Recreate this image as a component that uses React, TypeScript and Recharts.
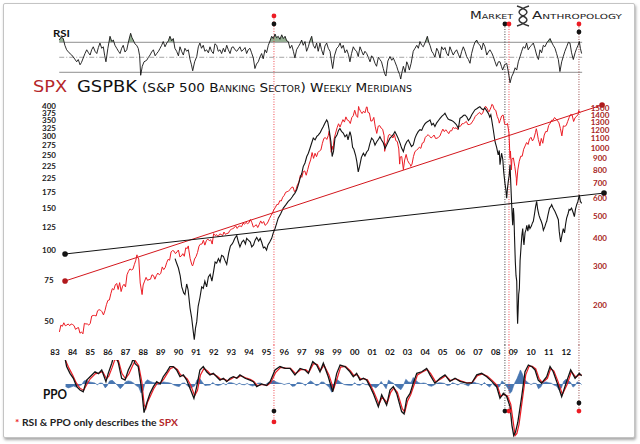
import React from "react";
import {
  Area,
  ComposedChart,
  Line,
  ReferenceDot,
  ReferenceLine,
  XAxis,
  YAxis,
} from "recharts";

type Pt = [number, number];

const RED = "#ec1c24";
const DARK_RED = "#a82624";
const INK = "#141414";
const RULE = "#8e8e8e";
const BLUE = "#3e6fad";
const GREEN = "#4f7d4b";

const X_DOMAIN = [1983, 2014.31];

const yearTicks = [
  1983, 1984, 1985, 1986, 1987, 1988, 1989, 1990, 1991, 1992, 1993, 1994, 1995,
  1996, 1997, 1998, 1999, 2000, 2001, 2002, 2003, 2004, 2005, 2006, 2007, 2008,
  2009, 2010, 2011, 2012,
];
const yearLabels = [
  "83", "84", "85", "86", "87", "88", "89", "90", "91", "92", "93", "94", "95",
  "96", "97", "98", "99", "00", "01", "02", "03", "04", "05", "06", "07", "08",
  "09", "10", "11", "12",
];

// left axis as printed (the 200 line carries a second "225")
const gspbkTicks = [50, 75, 100, 125, 150, 175, 200, 225, 250, 275, 300, 325, 350, 375, 400];
const gspbkTickLabels = ["50", "75", "100", "125", "150", "175", "225", "225", "250", "275", "300", "325", "350", "375", "400"];
const spxTicks = [200, 300, 400, 500, 600, 700, 800, 900, 1000, 1100, 1200, 1300, 1400, 1500];

// SPX month-end closes from Mar 1983 to Sep 2012
const spxStart = 1983.25;
const spxMonthly = [
  153, 164, 162, 168, 163, 164, 166, 163, 166, 165,
  163, 157, 159, 160, 151, 153, 150, 167, 166, 166, 164, 167,
  180, 181, 181, 180, 190, 192, 191, 188, 182, 190, 202, 211,
  212, 226, 238, 235, 247, 251, 236, 253, 231, 244, 249, 242,
  274, 284, 291, 288, 290, 304, 318, 330, 322, 252, 230, 247,
  257, 267, 259, 261, 262, 274, 272, 262, 272, 279, 274, 278,
  297, 289, 295, 310, 321, 318, 346, 351, 349, 340, 346, 353,
  329, 332, 340, 331, 361, 358, 356, 323, 306, 304, 322, 330,
  344, 367, 375, 375, 390, 371, 388, 395, 388, 392, 375, 417,
  409, 413, 404, 415, 415, 408, 424, 414, 418, 419, 431, 436,
  439, 443, 452, 440, 450, 451, 448, 464, 459, 468, 462, 466,
  482, 467, 446, 451, 457, 444, 458, 475, 463, 472, 454, 459,
  470, 487, 501, 515, 533, 545, 562, 562, 584, 582, 605, 616,
  636, 640, 645, 654, 669, 671, 640, 652, 687, 705, 757, 741,
  786, 791, 757, 801, 848, 885, 954, 899, 947, 915, 955, 970,
  980, 1049, 1102, 1112, 1091, 1134, 1121, 957, 1017, 1099, 1164, 1229,
  1280, 1238, 1286, 1335, 1302, 1373, 1329, 1320, 1283, 1363, 1389, 1469,
  1394, 1366, 1499, 1452, 1421, 1455, 1431, 1518, 1437, 1429, 1315, 1320,
  1366, 1240, 1160, 1249, 1256, 1224, 1211, 1134, 1041, 1060, 1139, 1148,
  1130, 1107, 1147, 1077, 1067, 990, 912, 916, 815, 885, 936, 880,
  856, 841, 848, 917, 964, 975, 990, 1008, 996, 1051, 1058, 1112,
  1131, 1145, 1126, 1107, 1121, 1141, 1102, 1104, 1115, 1130, 1174, 1212,
  1181, 1204, 1181, 1157, 1192, 1191, 1234, 1220, 1229, 1207, 1249, 1248,
  1280, 1281, 1295, 1311, 1270, 1270, 1277, 1304, 1336, 1378, 1401, 1418,
  1438, 1407, 1421, 1482, 1531, 1503, 1455, 1474, 1527, 1549, 1481, 1468,
  1379, 1331, 1323, 1386, 1400, 1280, 1267, 1283, 1165, 969, 896, 903,
  826, 735, 798, 873, 919, 919, 987, 1021, 1057, 1036, 1096, 1115,
  1074, 1104, 1169, 1187, 1089, 1031, 1102, 1049, 1141, 1183, 1181, 1258,
  1286, 1327, 1326, 1364, 1345, 1321, 1292, 1219, 1131, 1253, 1247, 1258,
  1312, 1366, 1408, 1398, 1310, 1362, 1379, 1407, 1441,
];

// weekly highs and lows that sit between month ends
const spxWeeklyExtremes: Pt[] = [
  [1987.65, 336], [1987.94, 224], [1990.56, 368], [1990.8, 300],
  [1998.55, 1186], [1998.77, 984], [2000.22, 1527], [2000.7, 1521],
  [2001.7, 966], [2002.55, 848], [2002.76, 801], [2003.18, 829],
  [2007.62, 1445], [2007.78, 1561], [2008.2, 1288], [2008.81, 899],
  [2008.89, 800], [2009.18, 683], [2010.3, 1217], [2010.5, 1022],
  [2011.34, 1363], [2012.71, 1465], [2012.8, 1433],
];

const gspbk: Pt[] = [
  [1989.81, 92], [1989.9, 88], [1990.0, 84], [1990.1, 78], [1990.19, 70],
  [1990.3, 66], [1990.37, 65], [1990.47, 72], [1990.55, 68], [1990.66, 57],
  [1990.75, 52], [1990.85, 45], [1990.9, 42], [1990.97, 47], [1991.04, 50],
  [1991.12, 58], [1991.22, 63], [1991.32, 70], [1991.41, 69], [1991.5, 74],
  [1991.6, 70], [1991.7, 77], [1991.8, 79], [1991.9, 74], [1991.98, 80],
  [1992.08, 89], [1992.17, 88], [1992.27, 92], [1992.36, 89], [1992.45, 95],
  [1992.55, 94], [1992.65, 90], [1992.74, 87], [1992.85, 97], [1992.95, 104],
  [1993.05, 106], [1993.11, 108], [1993.2, 112], [1993.31, 115], [1993.4, 108],
  [1993.49, 103], [1993.6, 108], [1993.7, 110], [1993.8, 106], [1993.87, 112],
  [1993.97, 110], [1994.08, 108], [1994.16, 103], [1994.26, 105], [1994.35, 110],
  [1994.44, 113], [1994.55, 109], [1994.64, 112], [1994.72, 108], [1994.82, 102],
  [1994.9, 103], [1995.0, 100], [1995.08, 105], [1995.18, 108], [1995.29, 112],
  [1995.38, 118], [1995.48, 123], [1995.58, 130], [1995.66, 136], [1995.8, 142],
  [1995.95, 150], [1996.1, 155], [1996.23, 160], [1996.35, 163], [1996.45, 167],
  [1996.52, 170], [1996.6, 173], [1996.71, 179], [1996.8, 188], [1996.9, 200],
  [1997.0, 210], [1997.08, 224], [1997.18, 232], [1997.28, 247], [1997.37, 255],
  [1997.46, 267], [1997.55, 280], [1997.65, 295], [1997.75, 290], [1997.85, 300],
  [1997.93, 304], [1998.05, 312], [1998.12, 320], [1998.22, 330], [1998.3, 340],
  [1998.41, 352], [1998.47, 345], [1998.55, 320], [1998.65, 285], [1998.72, 247],
  [1998.8, 260], [1998.88, 295], [1999.0, 305], [1999.08, 318], [1999.16, 324],
  [1999.25, 315], [1999.35, 310], [1999.45, 299], [1999.55, 305], [1999.62, 290],
  [1999.73, 314], [1999.8, 300], [1999.88, 270], [1999.95, 265], [2000.05, 250],
  [2000.12, 235], [2000.2, 213], [2000.28, 225], [2000.38, 245], [2000.49, 255],
  [2000.58, 248], [2000.68, 258], [2000.77, 263], [2000.86, 280], [2000.96, 295],
  [2001.05, 290], [2001.15, 276], [2001.25, 285], [2001.35, 292], [2001.43, 299],
  [2001.52, 290], [2001.62, 282], [2001.72, 267], [2001.8, 275], [2001.9, 285],
  [2002.0, 295], [2002.1, 300], [2002.18, 305], [2002.28, 314], [2002.37, 305],
  [2002.46, 295], [2002.57, 281], [2002.66, 268], [2002.76, 259], [2002.85, 275],
  [2002.95, 285], [2003.04, 290], [2003.14, 280], [2003.22, 272], [2003.32, 276],
  [2003.42, 295], [2003.5, 305], [2003.6, 314], [2003.7, 320], [2003.8, 318],
  [2003.89, 330], [2004.0, 340], [2004.1, 345], [2004.19, 348], [2004.27, 352],
  [2004.37, 335], [2004.46, 340], [2004.55, 330], [2004.65, 342], [2004.75, 350],
  [2004.84, 357], [2004.95, 365], [2005.05, 370], [2005.12, 375], [2005.22, 363],
  [2005.3, 355], [2005.4, 352], [2005.5, 350], [2005.6, 346], [2005.7, 340],
  [2005.78, 335], [2005.88, 324], [2005.97, 357], [2006.08, 362], [2006.18, 368],
  [2006.26, 369], [2006.36, 362], [2006.45, 350], [2006.54, 357], [2006.64, 370],
  [2006.74, 380], [2006.82, 388], [2006.92, 392], [2007.02, 397], [2007.1, 400],
  [2007.2, 392], [2007.29, 388], [2007.38, 395], [2007.48, 385], [2007.58, 375],
  [2007.66, 362], [2007.72, 370], [2007.77, 352], [2007.86, 320], [2007.96, 285],
  [2008.05, 270], [2008.14, 251], [2008.2, 262], [2008.24, 228], [2008.33, 255],
  [2008.4, 240], [2008.45, 213], [2008.52, 191], [2008.57, 180], [2008.62, 165],
  [2008.66, 180], [2008.71, 194], [2008.76, 205], [2008.81, 228], [2008.84, 200],
  [2008.88, 170], [2008.93, 140], [2008.96, 127], [2009.0, 150], [2009.03, 140],
  [2009.07, 110], [2009.11, 89], [2009.15, 78], [2009.19, 74], [2009.22, 55],
  [2009.24, 49], [2009.27, 56], [2009.3, 65], [2009.34, 69], [2009.38, 90],
  [2009.43, 102], [2009.48, 115], [2009.53, 123], [2009.57, 110], [2009.6, 105],
  [2009.66, 118], [2009.72, 122], [2009.76, 127], [2009.82, 120], [2009.88, 128],
  [2009.94, 123], [2010.02, 126], [2010.08, 130], [2010.13, 132], [2010.2, 142],
  [2010.26, 152], [2010.32, 160], [2010.38, 148], [2010.45, 140], [2010.51, 136],
  [2010.58, 132], [2010.64, 128], [2010.7, 121], [2010.78, 125], [2010.85, 130],
  [2010.89, 132], [2010.96, 140], [2011.05, 150], [2011.12, 152], [2011.17, 155],
  [2011.25, 150], [2011.36, 145], [2011.45, 140], [2011.55, 134], [2011.6, 120],
  [2011.65, 112], [2011.68, 108], [2011.72, 112], [2011.78, 118], [2011.83, 123],
  [2011.9, 118], [2011.96, 128], [2012.02, 136], [2012.1, 142], [2012.16, 148],
  [2012.21, 147], [2012.3, 150], [2012.4, 143], [2012.46, 138], [2012.52, 148],
  [2012.59, 155], [2012.66, 160], [2012.74, 170], [2012.8, 160], [2012.87, 157],
];

// SPX weekly RSI
const rsi: Pt[] = [
  [1983.24, 73], [1983.35, 77], [1983.47, 75], [1983.56, 66], [1983.66, 60],
  [1983.8, 56], [1983.95, 53], [1984.08, 49], [1984.23, 44], [1984.32, 47],
  [1984.42, 40], [1984.5, 43], [1984.6, 49], [1984.7, 55], [1984.8, 60],
  [1984.9, 56], [1984.99, 53], [1985.08, 60], [1985.17, 64], [1985.27, 58],
  [1985.37, 55], [1985.46, 63], [1985.55, 69], [1985.65, 62], [1985.74, 64],
  [1985.82, 52], [1985.89, 44], [1986.0, 62], [1986.12, 78], [1986.22, 71],
  [1986.31, 73], [1986.4, 66], [1986.5, 62], [1986.6, 58], [1986.69, 55],
  [1986.78, 62], [1986.87, 66], [1986.97, 57], [1987.07, 60], [1987.18, 72],
  [1987.29, 82], [1987.37, 76], [1987.44, 73], [1987.53, 68], [1987.63, 66],
  [1987.72, 62], [1987.8, 52], [1987.86, 26], [1987.95, 38], [1988.05, 44],
  [1988.2, 46], [1988.3, 50], [1988.39, 53], [1988.48, 57], [1988.58, 60],
  [1988.68, 52], [1988.77, 55], [1988.87, 58], [1988.96, 62], [1989.05, 66],
  [1989.14, 71], [1989.24, 64], [1989.34, 69], [1989.43, 72], [1989.52, 78],
  [1989.62, 72], [1989.71, 75], [1989.8, 62], [1989.9, 58], [1990.0, 52],
  [1990.09, 64], [1990.18, 58], [1990.28, 53], [1990.37, 62], [1990.47, 58],
  [1990.56, 60], [1990.66, 47], [1990.74, 40], [1990.81, 32], [1990.92, 44],
  [1991.04, 51], [1991.13, 64], [1991.22, 69], [1991.31, 62], [1991.41, 66],
  [1991.5, 58], [1991.6, 60], [1991.7, 56], [1991.79, 64], [1991.88, 58],
  [1991.98, 55], [1992.07, 68], [1992.17, 66], [1992.26, 58], [1992.36, 60],
  [1992.45, 55], [1992.55, 62], [1992.64, 57], [1992.74, 66], [1992.83, 60],
  [1992.93, 55], [1993.02, 63], [1993.11, 64], [1993.21, 60], [1993.31, 58],
  [1993.4, 61], [1993.49, 64], [1993.58, 58], [1993.68, 60], [1993.78, 63],
  [1993.87, 55], [1993.96, 60], [1994.06, 62], [1994.15, 56], [1994.25, 49],
  [1994.34, 35], [1994.43, 41], [1994.53, 44], [1994.62, 50], [1994.72, 55],
  [1994.81, 48], [1994.91, 60], [1995.0, 56], [1995.1, 66], [1995.2, 72],
  [1995.29, 78], [1995.38, 75], [1995.48, 81], [1995.57, 76], [1995.66, 78],
  [1995.76, 74], [1995.86, 80], [1995.95, 75], [1996.05, 78], [1996.14, 72],
  [1996.23, 71], [1996.33, 62], [1996.43, 66], [1996.52, 58], [1996.61, 49],
  [1996.7, 60], [1996.8, 64], [1996.9, 68], [1996.99, 73], [1997.08, 66],
  [1997.18, 71], [1997.27, 58], [1997.37, 64], [1997.46, 72], [1997.56, 78],
  [1997.65, 66], [1997.75, 62], [1997.84, 69], [1997.93, 58], [1998.03, 69],
  [1998.12, 60], [1998.22, 53], [1998.31, 65], [1998.41, 69], [1998.5, 62],
  [1998.6, 58], [1998.68, 45], [1998.75, 35], [1998.85, 52], [1998.98, 62],
  [1999.07, 64], [1999.17, 69], [1999.26, 62], [1999.35, 66], [1999.45, 56],
  [1999.55, 60], [1999.64, 54], [1999.73, 44], [1999.82, 55], [1999.92, 64],
  [2000.01, 60], [2000.11, 58], [2000.2, 51], [2000.3, 64], [2000.4, 58],
  [2000.49, 53], [2000.58, 58], [2000.68, 55], [2000.77, 50], [2000.87, 44],
  [2000.96, 52], [2001.05, 49], [2001.15, 42], [2001.24, 38], [2001.34, 50],
  [2001.43, 47], [2001.52, 44], [2001.62, 35], [2001.7, 28], [2001.77, 25],
  [2001.88, 45], [2002.0, 51], [2002.1, 46], [2002.19, 49], [2002.28, 44],
  [2002.38, 38], [2002.46, 32], [2002.55, 27], [2002.61, 21], [2002.68, 30],
  [2002.76, 38], [2002.86, 30], [2002.95, 44], [2003.02, 40], [2003.1, 33],
  [2003.2, 42], [2003.32, 58], [2003.42, 62], [2003.52, 66], [2003.61, 62],
  [2003.7, 71], [2003.8, 66], [2003.89, 64], [2004.0, 70], [2004.12, 78],
  [2004.2, 70], [2004.27, 66], [2004.37, 58], [2004.46, 55], [2004.55, 50],
  [2004.65, 62], [2004.74, 58], [2004.84, 49], [2004.93, 64], [2005.03, 60],
  [2005.12, 63], [2005.22, 55], [2005.31, 52], [2005.4, 64], [2005.5, 58],
  [2005.59, 53], [2005.68, 57], [2005.78, 60], [2005.88, 54], [2005.97, 49],
  [2006.07, 58], [2006.16, 64], [2006.26, 58], [2006.35, 51], [2006.45, 47],
  [2006.54, 42], [2006.63, 55], [2006.73, 64], [2006.82, 70], [2006.92, 73],
  [2007.01, 68], [2007.11, 66], [2007.2, 60], [2007.29, 69], [2007.39, 64],
  [2007.49, 53], [2007.58, 57], [2007.67, 60], [2007.77, 56], [2007.86, 51],
  [2007.96, 44], [2008.05, 38], [2008.15, 44], [2008.24, 44], [2008.32, 38],
  [2008.39, 33], [2008.5, 40], [2008.62, 42], [2008.72, 30], [2008.81, 16],
  [2008.9, 24], [2009.0, 29], [2009.1, 36], [2009.19, 33], [2009.28, 44],
  [2009.38, 51], [2009.47, 58], [2009.56, 64], [2009.66, 62], [2009.75, 69],
  [2009.84, 60], [2009.94, 64], [2010.03, 66], [2010.13, 69], [2010.22, 62],
  [2010.32, 53], [2010.42, 47], [2010.51, 60], [2010.6, 56], [2010.7, 66],
  [2010.79, 64], [2010.89, 69], [2010.98, 72], [2011.08, 75], [2011.17, 70],
  [2011.26, 66], [2011.36, 62], [2011.45, 55], [2011.55, 47], [2011.64, 31],
  [2011.74, 44], [2011.83, 51], [2011.92, 58], [2012.02, 64], [2012.12, 70],
  [2012.21, 69], [2012.3, 56], [2012.4, 47], [2012.5, 56], [2012.59, 62],
  [2012.67, 66], [2012.74, 71], [2012.8, 62], [2012.87, 55],
];

// SPX PPO line, its signal line and histogram
const ppo: Pt[] = [
  [1983.55, 10.5], [1983.66, 6.7], [1983.85, 4.1], [1984.04, 2.2], [1984.23, -1],
  [1984.42, -2.3], [1984.6, -3], [1984.8, 1.5], [1984.99, 2.8], [1985.27, 4.7],
  [1985.46, 4], [1985.65, 5.4], [1985.89, 0.9], [1986.02, 4.1], [1986.22, 8],
  [1986.32, 10.5], [1986.49, 10], [1986.59, 8.2], [1986.78, 2.2], [1986.97, 1.5],
  [1987.16, 5.4], [1987.35, 8], [1987.44, 10], [1987.54, 7.8], [1987.72, 6.7],
  [1987.92, -2.3], [1988.05, -11], [1988.2, -7.4], [1988.39, -3.6], [1988.58, -1],
  [1988.77, 0.9], [1988.96, 0], [1989.14, 2.8], [1989.34, 4.7], [1989.52, 6.7],
  [1989.71, 6.7], [1989.9, 5.4], [1990.09, 2.8], [1990.28, 3.5], [1990.47, 1.5],
  [1990.66, -1.7], [1990.88, -5.5], [1991.04, -1], [1991.22, 5.4], [1991.41, 6.7],
  [1991.6, 4.7], [1991.79, 3.5], [1991.98, 4.1], [1992.17, 2.8], [1992.36, 1.5],
  [1992.55, 2.2], [1992.74, 0.9], [1992.93, 2.2], [1993.11, 2.8], [1993.31, 2.2],
  [1993.49, 3.5], [1993.78, 2.2], [1994.06, 1.5], [1994.25, 0.9], [1994.44, -1],
  [1994.72, 0], [1995.0, -0.6], [1995.2, 0.9], [1995.48, 5.4], [1995.76, 6.7],
  [1996.05, 6], [1996.33, 6], [1996.61, 3.5], [1996.9, 6], [1997.18, 5.4],
  [1997.37, 4.1], [1997.62, 8.6], [1997.84, 7.3], [1998.03, 4.7], [1998.22, 8],
  [1998.5, 2.8], [1998.75, -3], [1998.98, 4.1], [1999.17, 7.3], [1999.45, 6.7],
  [1999.73, 4.7], [1999.92, 2.8], [2000.11, 4.1], [2000.3, 1.5], [2000.49, 2.2],
  [2000.68, 1.5], [2000.87, -1], [2001.05, -3.6], [2001.34, -8.7], [2001.53, -4.2],
  [2001.81, -8.1], [2002.0, -2.3], [2002.19, -1], [2002.38, -3.6], [2002.66, -10.6],
  [2002.8, -11.5], [2002.95, -5.6], [2003.14, -3.6], [2003.32, 0.3], [2003.52, 4.1],
  [2003.8, 4.7], [2004.08, 6], [2004.27, 3.5], [2004.55, 0.3], [2004.84, 2.2],
  [2005.12, 3.5], [2005.4, 1], [2005.69, 2.2], [2005.97, 1], [2006.35, 0.3],
  [2006.63, 0.3], [2006.92, 3.5], [2007.2, 4.1], [2007.49, 2.8], [2007.77, 1],
  [2008.05, -1], [2008.24, -5.5], [2008.43, -3.6], [2008.62, -4.8], [2008.81, -8.7],
  [2008.92, -16], [2009.02, -19.8], [2009.12, -18.5], [2009.25, -14.8], [2009.47, -4.9],
  [2009.66, 4.7], [2009.85, 7.3], [2010.04, 6.7], [2010.23, 5.4], [2010.41, 1.5],
  [2010.6, 0.3], [2010.89, 2.8], [2011.08, 6.7], [2011.26, 4.7], [2011.49, 0.3],
  [2011.74, -4.9], [2012.02, 1], [2012.25, 5.4], [2012.5, 2.2], [2012.74, 4.1],
  [2012.87, 3.1],
];

const ppoSignal: Pt[] = [
  [1983.6, 9], [1983.8, 6], [1984.0, 3.5], [1984.2, 0.5], [1984.4, -1.5],
  [1984.62, -2.5], [1984.82, 0], [1985.0, 2], [1985.3, 4], [1985.5, 4.2],
  [1985.7, 4.8], [1985.92, 2], [1986.05, 3], [1986.25, 6.5], [1986.4, 9.5],
  [1986.6, 9], [1986.8, 4], [1987.0, 2], [1987.2, 4], [1987.4, 7],
  [1987.55, 9], [1987.75, 7], [1987.92, 1], [1988.06, -8], [1988.15, -9.5],
  [1988.25, -7], [1988.42, -4.5], [1988.6, -1.8], [1988.8, 0.3], [1989.0, 0.5],
  [1989.18, 2], [1989.36, 4], [1989.55, 6], [1989.75, 6.5], [1989.95, 5.5],
  [1990.12, 3.5], [1990.32, 3], [1990.5, 2], [1990.7, -0.5], [1990.92, -4.5],
  [1991.08, -2.5], [1991.25, 3.5], [1991.45, 6], [1991.65, 5], [1991.82, 3.8],
  [1992.0, 3.8], [1992.2, 3], [1992.4, 1.8], [1992.6, 1.9], [1992.78, 1.2],
  [1992.96, 1.8], [1993.15, 2.6], [1993.35, 2.4], [1993.53, 3.2], [1993.82, 2.4],
  [1994.1, 1.7], [1994.28, 1], [1994.48, -0.6], [1994.76, -0.2], [1995.04, -0.5],
  [1995.24, 0.5], [1995.52, 4.5], [1995.8, 6.4], [1996.08, 6.1], [1996.36, 6],
  [1996.65, 4], [1996.93, 5.5], [1997.22, 5.5], [1997.4, 4.5], [1997.66, 7.8],
  [1997.88, 7.5], [1998.06, 5.2], [1998.26, 7.2], [1998.54, 3.5], [1998.8, -2],
  [1999.02, 2.5], [1999.2, 6.5], [1999.48, 6.8], [1999.76, 5], [1999.95, 3.2],
  [2000.14, 3.6], [2000.33, 2], [2000.52, 2], [2000.72, 1.6], [2000.9, -0.5],
  [2001.08, -3], [2001.38, -7.8], [2001.56, -5], [2001.85, -7.2], [2002.04, -3.2],
  [2002.22, -1.5], [2002.42, -3.2], [2002.7, -9.5], [2002.84, -10.8], [2003.0, -6.5],
  [2003.18, -4], [2003.36, -0.5], [2003.56, 3.5], [2003.84, 4.6], [2004.12, 5.6],
  [2004.31, 4], [2004.59, 0.8], [2004.88, 1.9], [2005.16, 3.2], [2005.44, 1.3],
  [2005.73, 2], [2006.01, 1.2], [2006.39, 0.4], [2006.67, 0.6], [2006.96, 3.2],
  [2007.24, 3.9], [2007.53, 3], [2007.81, 1.3], [2008.09, -0.6], [2008.28, -4.8],
  [2008.47, -3.9], [2008.66, -4.6], [2008.85, -7.8], [2009.0, -15], [2009.1, -19.8],
  [2009.2, -19], [2009.32, -15.5], [2009.51, -6], [2009.7, 3.5], [2009.89, 6.8],
  [2010.08, 6.8], [2010.27, 5.8], [2010.45, 2.2], [2010.64, 0.5], [2010.93, 2.2],
  [2011.12, 6], [2011.3, 5], [2011.53, 1], [2011.78, -4], [2012.06, 0],
  [2012.29, 4.8], [2012.54, 2.6], [2012.78, 3.7], [2012.87, 3.4],
];

const ppoHistogram: Pt[] = [
  [1983.6, -1], [1983.75, -1.5], [1983.9, -1.2], [1984.05, -0.8], [1984.2, -1.2],
  [1984.35, -0.6], [1984.5, -0.4], [1984.65, 1.2], [1984.8, 1.5], [1984.95, 0.8],
  [1985.1, 0.6], [1985.25, 0.4], [1985.4, -0.3], [1985.55, 0.4], [1985.7, 0.3],
  [1985.85, -1.5], [1985.95, -0.8], [1986.1, 1.2], [1986.25, 1.4], [1986.4, 0.5],
  [1986.55, -0.6], [1986.7, -1.8], [1986.85, -0.8], [1987.0, 0.8], [1987.15, 1.2],
  [1987.3, 1.0], [1987.45, 0.4], [1987.6, -0.6], [1987.75, -1.2], [1987.88, -3.5],
  [1988.0, -2.5], [1988.12, 0.8], [1988.25, 1.6], [1988.4, 1.0], [1988.55, 0.6],
  [1988.7, 0.4], [1988.85, -0.3], [1989.0, 0.5], [1989.15, 0.8], [1989.3, 0.6],
  [1989.45, 0.5], [1989.6, 0.2], [1989.75, -0.4], [1989.9, -0.8], [1990.05, -1],
  [1990.2, 0.3], [1990.35, 0.4], [1990.5, -0.6], [1990.65, -1.4], [1990.8, -1.2],
  [1990.92, -0.8], [1991.05, 1.5], [1991.2, 2.2], [1991.35, 0.8], [1991.5, -0.6],
  [1991.65, -0.5], [1991.8, -0.4], [1991.95, 0.6], [1992.1, -0.3], [1992.25, -0.6],
  [1992.4, -0.3], [1992.55, 0.3], [1992.7, -0.4], [1992.85, 0.5], [1993.0, 0.5],
  [1993.15, 0.2], [1993.3, -0.3], [1993.45, 0.3], [1993.6, -0.2], [1993.75, -0.3],
  [1993.9, 0.2], [1994.05, -0.4], [1994.2, -0.8], [1994.35, -0.5], [1994.5, 0.3],
  [1994.65, 0.4], [1994.8, -0.4], [1994.95, -0.2], [1995.1, 0.6], [1995.25, 1.0],
  [1995.4, 1.3], [1995.55, 0.8], [1995.7, 0.4], [1995.85, 0.2], [1996.0, -0.2],
  [1996.15, 0.1], [1996.3, 0.3], [1996.45, -0.9], [1996.6, -0.8], [1996.75, 0.6],
  [1996.9, 0.5], [1997.05, 0.2], [1997.2, -0.6], [1997.35, 0.4], [1997.5, 1.2],
  [1997.65, 0.5], [1997.8, -0.6], [1997.95, -0.4], [1998.1, 0.8], [1998.25, 0.7],
  [1998.4, -0.4], [1998.55, -1.2], [1998.7, -3.2], [1998.82, -1.0], [1998.95, 2.0],
  [1999.1, 1.2], [1999.25, 0.4], [1999.4, -0.2], [1999.55, -0.4], [1999.7, -0.5],
  [1999.85, -0.5], [2000.0, 0.5], [2000.15, -0.4], [2000.3, -0.5], [2000.45, 0.3],
  [2000.6, -0.2], [2000.75, -0.3], [2000.9, -1.0], [2001.05, -0.9], [2001.2, -1.5],
  [2001.35, -0.6], [2001.5, 1.0], [2001.65, -0.5], [2001.78, -1.8], [2001.92, 1.5],
  [2002.05, 0.8], [2002.2, 0.3], [2002.35, -0.8], [2002.5, -1.6], [2002.62, -2.2],
  [2002.75, -0.8], [2002.9, 1.8], [2003.05, 0.8], [2003.2, 0.6], [2003.32, 2.5],
  [2003.45, 1.5], [2003.6, 0.6], [2003.75, 0.2], [2003.9, 0.4], [2004.05, 0.2],
  [2004.2, -0.6], [2004.35, -0.9], [2004.5, -0.4], [2004.65, 0.3], [2004.8, 0.5],
  [2004.95, 0.4], [2005.1, 0.2], [2005.25, -0.6], [2005.4, -0.4], [2005.55, 0.5],
  [2005.7, 0.1], [2005.85, -0.4], [2006.0, 0.2], [2006.15, 0.1], [2006.3, -0.3],
  [2006.45, -0.8], [2006.6, 0.3], [2006.75, 0.8], [2006.9, 0.3], [2007.05, 0.1],
  [2007.2, -0.5], [2007.35, 0.6], [2007.5, -0.4], [2007.65, -1.2], [2007.8, 0.2],
  [2007.95, -0.8], [2008.1, -1.4], [2008.22, -1.0], [2008.35, 1.2], [2008.5, 0.3],
  [2008.62, -1.0], [2008.72, -2.0], [2008.8, -3.6], [2008.9, -3.0], [2009.0, -1.0],
  [2009.1, 0.8], [2009.2, 2.0], [2009.32, 4.0], [2009.4, 5.4], [2009.5, 4.0],
  [2009.6, 2.0], [2009.72, 1.2], [2009.85, 0.4], [2010.0, -0.2], [2010.15, 0.3],
  [2010.3, 0.2], [2010.42, -1.8], [2010.55, -1.2], [2010.7, 0.6], [2010.85, 0.8],
  [2011.0, 0.5], [2011.15, 0.3], [2011.3, -0.4], [2011.45, -0.8], [2011.6, -2.4],
  [2011.72, -1.6], [2011.85, 1.0], [2011.98, 1.8], [2012.1, 1.4], [2012.25, 0.6],
  [2012.38, -1.2], [2012.5, -0.6], [2012.62, 0.8], [2012.75, 0.5], [2012.87, -0.2],
];

const gspbkTrend: Pt[] = [[1983.57, 96.2], [2014.14, 173.4]];
const spxTrend: Pt[] = [[1983.57, 257.3], [2014.03, 1550]];

// dated meridians: top marker sits on the RSI scale, bottom marker on the PPO scale
const meridianDates = [1995.42, 2008.52, 2008.75, 2012.72];
const meridianColors = [RED, INK, RED, "#7c1c1c"];
const meridianTops = [105.1, 94.4, 94.4, 94.4];
const meridianBottoms = [-14.6, -10.4, -10.4, -10.4];
const rsiMarkers: [number, number, string][] = [
  [1995.42, 105.1, RED], [1995.42, 94.4, INK], [2008.52, 94.4, INK],
  [2008.75, 94.4, RED], [2012.72, 94.4, RED], [2012.72, 83.7, INK],
];
const ppoMarkers: [number, number, string][] = [
  [1995.42, -10.4, INK], [1995.42, -14.6, RED], [2008.52, -10.4, INK],
  [2008.75, -10.4, RED], [2012.72, -7.3, INK], [2012.72, -10.4, RED],
];

const toRows = (pts: Pt[]) => pts.map(([t, v]) => ({ t, v }));

const spxRows = toRows(
  [
    ...spxMonthly.map((v, i) => [spxStart + i / 12, v] as Pt),
    ...spxWeeklyExtremes,
  ].sort((a, b) => a[0] - b[0])
);
const gspbkRows = toRows(gspbk);
const rsiRows = toRows(rsi);
const ppoRows = toRows(ppo);
const signalRows = toRows(ppoSignal);
const histRows = toRows(ppoHistogram);
const gspbkTrendRows = toRows(gspbkTrend);
const spxTrendRows = toRows(spxTrend);

const LABEL_FONT = "Lato, 'DejaVu Sans', sans-serif";

function YearTick(props: any) {
  const i = yearTicks.indexOf(props.payload.value);
  return (
    <text x={props.x} y={262} textAnchor="middle" fontFamily={LABEL_FONT} fontWeight={700} fontSize={8.2} fill="#111">
      {yearLabels[i]}
    </text>
  );
}

function GspbkTick(props: any) {
  const i = gspbkTicks.indexOf(props.payload.value);
  return (
    <text x={49} y={props.y + 2.8} textAnchor="middle" fontFamily={LABEL_FONT} fontWeight={700} fontSize={8} fill="#222">
      {gspbkTickLabels[i]}
    </text>
  );
}

function SpxTick(props: any) {
  return (
    <text x={600} y={props.y + 2.8} textAnchor="middle" fontFamily={LABEL_FONT} fontWeight={700} fontSize={8} fill={DARK_RED}>
      {props.payload.value}
    </text>
  );
}

function RsiPanel() {
  return (
    <ComposedChart width={640} height={93} margin={{ top: 8, right: 33, bottom: 0, left: 55 }}>
      <defs>
        <linearGradient id="rsiHot" x1="0" y1="0" x2="0" y2="93" gradientUnits="userSpaceOnUse">
          <stop offset="0" stopColor={GREEN} />
          <stop offset="0.4546" stopColor={GREEN} />
          <stop offset="0.4546" stopColor={GREEN} stopOpacity={0} />
          <stop offset="1" stopColor={GREEN} stopOpacity={0} />
        </linearGradient>
      </defs>
      <XAxis type="number" dataKey="t" domain={X_DOMAIN} allowDataOverflow hide />
      <YAxis type="number" domain={[2.4, 115.7]} allowDataOverflow hide />
      <ReferenceLine segment={[{ x: 1983.24, y: 70 }, { x: 2012.9, y: 70 }]} stroke={RULE} strokeWidth={1} />
      <ReferenceLine segment={[{ x: 1983.24, y: 50 }, { x: 2012.9, y: 50 }]} stroke={RULE} strokeWidth={0.8} strokeDasharray="5 2 1 2" />
      <ReferenceLine segment={[{ x: 1983.24, y: 30 }, { x: 2012.9, y: 30 }]} stroke={RULE} strokeWidth={1} />
      {meridianDates.map((t, i) => (
        <ReferenceLine
          key={t}
          segment={[{ x: t, y: meridianTops[i] }, { x: t, y: 2.4 }]}
          stroke={meridianColors[i]}
          strokeWidth={0.8}
          strokeDasharray="1 1.5"
        />
      ))}
      <Area data={rsiRows} dataKey="v" baseValue={70} type="linear" stroke="none" fill="url(#rsiHot)" isAnimationActive={false} />
      <Line data={rsiRows} dataKey="v" type="linear" stroke={INK} strokeWidth={0.9} dot={false} isAnimationActive={false} />
      {rsiMarkers.map(([t, v, c], i) => (
        <ReferenceDot key={i} x={t} y={v} r={2.4} fill={c} stroke="none" />
      ))}
    </ComposedChart>
  );
}

function PricePanel() {
  return (
    <ComposedChart width={640} height={269} margin={{ top: 0, right: 0, bottom: 0, left: 15 }}>
      <XAxis
        type="number"
        dataKey="t"
        domain={X_DOMAIN}
        allowDataOverflow
        ticks={yearTicks}
        interval={0}
        height={17}
        axisLine={false}
        tickLine={false}
        tick={(p: any) => <YearTick {...p} />}
      />
      <YAxis
        yAxisId="bk"
        orientation="left"
        width={40}
        scale="log"
        domain={[39.9, 456.5]}
        allowDataOverflow
        ticks={gspbkTicks}
        interval={0}
        axisLine={false}
        tickLine={false}
        tick={(p: any) => <GspbkTick {...p} />}
      />
      <YAxis
        yAxisId="spx"
        orientation="right"
        width={33}
        scale="log"
        domain={[133.9, 1752]}
        allowDataOverflow
        ticks={spxTicks}
        interval={0}
        axisLine={false}
        tickLine={false}
        tick={(p: any) => <SpxTick {...p} />}
      />
      {meridianDates.map((t, i) => (
        <ReferenceLine key={t} yAxisId="bk" x={t} stroke={meridianColors[i]} strokeWidth={0.8} strokeDasharray="1 1.5" />
      ))}
      <Line yAxisId="spx" data={spxRows} dataKey="v" type="linear" stroke={RED} strokeWidth={1} dot={false} isAnimationActive={false} />
      <Line yAxisId="bk" data={gspbkRows} dataKey="v" type="linear" stroke={INK} strokeWidth={1.1} dot={false} isAnimationActive={false} />
      <Line yAxisId="spx" data={spxTrendRows} dataKey="v" type="linear" stroke="#d3161c" strokeWidth={1} dot={false} isAnimationActive={false} />
      <Line yAxisId="bk" data={gspbkTrendRows} dataKey="v" type="linear" stroke={INK} strokeWidth={1} dot={false} isAnimationActive={false} />
      {spxTrend.map(([t, v]) => (
        <ReferenceDot key={`s${t}`} yAxisId="spx" x={t} y={v} r={2.8} fill="#b0181c" stroke="none" />
      ))}
      {gspbkTrend.map(([t, v]) => (
        <ReferenceDot key={`b${t}`} yAxisId="bk" x={t} y={v} r={2.8} fill={INK} stroke="none" />
      ))}
    </ComposedChart>
  );
}

function PpoPanel() {
  return (
    <ComposedChart width={640} height={99} margin={{ top: 15, right: 33, bottom: 4, left: 55 }}>
      <XAxis type="number" dataKey="t" domain={X_DOMAIN} allowDataOverflow hide />
      <YAxis type="number" domain={[-21.54, 9.23]} allowDataOverflow hide />
      {meridianDates.map((t, i) => (
        <ReferenceLine
          key={t}
          segment={[{ x: t, y: 15 }, { x: t, y: meridianBottoms[i] }]}
          ifOverflow="visible"
          stroke={meridianColors[i]}
          strokeWidth={0.8}
          strokeDasharray="1 1.5"
        />
      ))}
      <Area data={histRows} dataKey="v" baseValue={0} type="linear" stroke={BLUE} strokeWidth={0.6} fill={BLUE} fillOpacity={0.95} isAnimationActive={false} />
      <Line data={signalRows} dataKey="v" type="linear" stroke={RED} strokeWidth={1.2} dot={false} isAnimationActive={false} />
      <Line data={ppoRows} dataKey="v" type="linear" stroke={INK} strokeWidth={1.3} dot={false} isAnimationActive={false} />
      {ppoMarkers.map(([t, v, c], i) => (
        <ReferenceDot key={i} x={t} y={v} r={2.4} fill={c} stroke="none" />
      ))}
    </ComposedChart>
  );
}

function Captions() {
  const title = "DejaVu Sans, sans-serif";
  return (
    <svg width={640} height={444} style={{ position: "absolute", left: 0, top: 0, pointerEvents: "none" }}>
      <text x={470} y={19} fontFamily={title} fontSize={10} fill="#222" style={{ fontVariant: "small-caps" }} textLength={43} lengthAdjust="spacingAndGlyphs">
        Market
      </text>
      <path d="M517,6 C529,10 529,13 523,16 C517,19 517,22 529,26" stroke="#333" strokeWidth={1.4} fill="none" />
      <path d="M529,6 C517,10 517,13 523,16 C529,19 529,22 517,26" stroke="#333" strokeWidth={1.4} fill="none" />
      <text x={532} y={19} fontFamily={title} fontSize={10} fill="#222" style={{ fontVariant: "small-caps" }} textLength={90} lengthAdjust="spacingAndGlyphs">
        Anthropology
      </text>
      <text x={53} y={36.7} fontFamily={LABEL_FONT} fontWeight={700} fontSize={10} fill="#111" textLength={17} lengthAdjust="spacingAndGlyphs">
        RSI
      </text>
      <text x={33} y={91.7} fontFamily={title} fontSize={16} fill="#b5262a" textLength={34} lengthAdjust="spacingAndGlyphs">
        SPX
      </text>
      <text x={77} y={91.7} fontFamily={title} fontSize={16} fill="#111" textLength={60} lengthAdjust="spacingAndGlyphs">
        GSPBK
      </text>
      <text x={142} y={91.7} fontFamily={title} fontSize={13} fill="#111" style={{ fontVariant: "small-caps" }} textLength={270} lengthAdjust="spacingAndGlyphs">
        {"(S&P 500 Banking Sector) Weekly Meridians"}
      </text>
      <text x={43} y={399.3} fontFamily={LABEL_FONT} fontWeight={700} fontSize={12.5} fill="#111" textLength={24} lengthAdjust="spacingAndGlyphs">
        PPO
      </text>
      <text x={15} y={425.7} fontFamily={LABEL_FONT} fontWeight={700} fontSize={9.5} fill="#222" textLength={163} lengthAdjust="spacingAndGlyphs">
        <tspan fill={RED}>*</tspan>
        {" RSI & PPO only describes the "}
        <tspan fill="#b5262a">SPX</tspan>
      </text>
    </svg>
  );
}

export default function App() {
  return (
    <div style={{ position: "absolute", left: 0, top: 0, width: 640, height: 444, background: "#fff", fontFamily: LABEL_FONT }}>
      <div
        style={{
          position: "absolute",
          left: 3,
          top: 3,
          width: 632,
          height: 435,
          boxSizing: "border-box",
          border: "1px solid #c4c4c4",
          borderRadius: 2,
          boxShadow: "1px 2px 3px rgba(0,0,0,0.35)",
          background: "#fff",
        }}
      />
      <div style={{ position: "absolute", left: 0, top: 0 }}>
        <RsiPanel />
      </div>
      <div style={{ position: "absolute", left: 0, top: 93 }}>
        <PricePanel />
      </div>
      <div style={{ position: "absolute", left: 0, top: 345 }}>
        <PpoPanel />
      </div>
      <Captions />
    </div>
  );
}
